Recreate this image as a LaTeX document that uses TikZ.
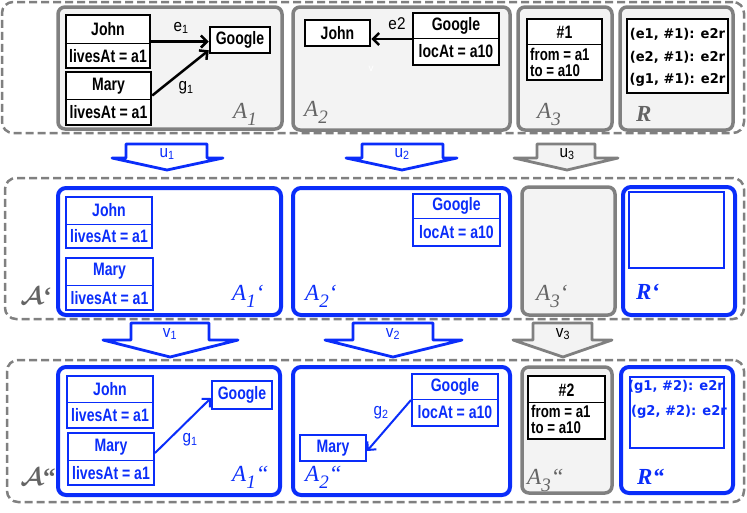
\documentclass[tikz,border=0pt]{standalone}
\usepackage{fontspec}
\setmainfont{Liberation Sans}
\newfontfamily\clsf{Liberation Sans}[FakeStretch=0.78]
\newfontfamily\elf{Liberation Sans}[FakeStretch=0.9]
\newfontfamily\rtf{DejaVu Sans}[FakeStretch=0.97]
\newfontfamily\lblf{Liberation Serif}
\usetikzlibrary{arrows.meta}
\definecolor{myblue}{RGB}{10,45,250}
\definecolor{mgray}{RGB}{128,128,128}
\definecolor{lgray}{RGB}{243,243,243}
\definecolor{agray}{RGB}{100,100,100}
\tikzset{
  outer/.style={draw=mgray, line width=2.5pt, dash pattern=on 8pt off 4pt, rounded corners=11pt},
  gbox/.style={draw=mgray, fill=lgray, line width=3.5pt, rounded corners=7pt, inner sep=0pt},
  bbox/.style={draw=myblue, fill=white, line width=4pt, rounded corners=8pt, inner sep=0pt},
  cls/.style={draw=black, line width=2.5pt, fill=white, inner sep=0pt},
  bcls/.style={draw=myblue, line width=2pt, fill=white, inner sep=0pt},
  div/.style={line width=0.8pt},
  ct/.style={font=\clsf\bfseries\fontsize{18}{18}\selectfont, inner sep=0pt},
  ctl/.style={font=\clsf\bfseries\fontsize{17}{15.5}\selectfont, inner sep=0pt, align=left, anchor=west},
  rt/.style={font=\rtf\bfseries\fontsize{13.5}{13.5}\selectfont, inner sep=0pt},
  el/.style={font=\elf\fontsize{17}{17}\selectfont, inner sep=0pt},
  lbl/.style={font=\lblf\itshape\fontsize{23}{23}\selectfont, inner sep=0pt, anchor=west},
  rlbl/.style={font=\lblf\bfseries\itshape\fontsize{23}{23}\selectfont, inner sep=0pt, anchor=west},
  scriptA/.style={font=\fontsize{25}{25}\selectfont, inner sep=0pt, text=agray},
  bconn/.style={line width=2.5pt, -{Straight Barb[length=6pt,width=12pt,line width=2.5pt]}},
  blconn/.style={myblue, line width=2pt, -{Straight Barb[length=6pt,width=12pt,line width=2pt]}},
  barrow/.style={draw=myblue, fill=white, line width=2.8pt, line join=round},
  garrow/.style={draw=mgray, fill=lgray, line width=2.8pt, line join=round},
}
\newcommand{\sbs}[1]{\raisebox{-7pt}{\fontsize{19}{19}\selectfont #1}}
\newcommand{\sq}{\char"2018\relax}
\newcommand{\dq}{\char"201C\relax}
\newcommand{\calA}{{\boldmath$\mathcal{A}$}}
\begin{document}
\begin{tikzpicture}[x=1pt,y=-1pt]
\useasboundingbox (0,0) rectangle (747,512);
% ================= Row 1 =================
\node[outer, minimum width=742, minimum height=131] (row1) at (373,67.5) {};
\node[gbox, minimum width=224, minimum height=122] (A1) at (170,68) {};
\node[gbox, minimum width=217, minimum height=123] (A2) at (401.5,68.5) {};
\node[gbox, minimum width=94, minimum height=123] (A3) at (565,68.5) {};
\node[gbox, minimum width=113, minimum height=123] (R) at (676.5,68.5) {};
% A1
\node[cls, minimum width=84, minimum height=53] (j1) at (108,41.5) {};
\draw[div] (j1.west |- 0,43) -- (j1.east |- 0,43);
\node[ct] at (108,29) {John};
\node[ct] at (108,56.5) {livesAt = a1};
\node[cls, minimum width=85, minimum height=53] (m1) at (108.5,98.5) {};
\draw[div] (m1.west |- 0,99) -- (m1.east |- 0,99);
\node[ct] at (108.5,86) {Mary};
\node[ct] at (108.5,112.5) {livesAt = a1};
\node[cls, minimum width=60, minimum height=26] (g1) at (240,40) {};
\node[ct] at (240,40) {Google};
\draw[bconn] (j1.east) -- (j1.east -| g1.west);
\draw[bconn] ([yshift=3pt]m1.east) -- ([yshift=4pt]g1.south west);
\node[el] at (181,28) {e\textsubscript{1}};
\node[el] at (186,88) {g\textsubscript{1}};
\node[lbl, text=agray] at (233,114) {A\sbs{1}};
% A2
\node[cls, minimum width=65, minimum height=26] (j2) at (337.5,33) {};
\node[ct] at (337.5,33) {John};
\node[cls, minimum width=86, minimum height=52] (gg2) at (456,39) {};
\draw[div] (gg2.west |- 0,38) -- (gg2.east |- 0,38);
\node[ct] at (456,26) {Google};
\node[ct] at (456,51.5) {locAt = a10};
\draw[bconn] (gg2.west) -- (gg2.west -| j2.east);
\node[el] at (397,24) {e2};
\node[el, text=white, font=\fontsize{10}{10}\selectfont] at (371,69) {v};
\node[lbl, text=agray] at (304,112) {A\sbs{2}};
% A3
\node[cls, minimum width=75, minimum height=61] (h1) at (564.5,49.5) {};
\draw[div] (h1.west |- 0,44) -- (h1.east |- 0,44);
\node[ct] at (564.5,32) {\#1};
\node[ctl] at (530,62.5) {from = a1\\to = a10};
\node[lbl, text=agray] at (537,114) {A\sbs{3}};
% R
\node[cls, minimum width=101, minimum height=74] (r1) at (677.5,56) {};
\node[rt] at (677.5,34) {(e1, \#1): e2r};
\node[rt] at (677.5,57) {(e2, \#1): e2r};
\node[rt] at (677.5,80) {(g1, \#1): e2r};
\node[rlbl, text=agray] at (636,114) {R};
% ================= u arrows =================
\draw[barrow] (126,144) -- (207,144) -- (207,158) -- (223,158) -- (167,170) -- (112,158) -- (126,158) -- cycle;
\node[el, text=myblue] (u1) at (167,154) {u\textsubscript{1}};
\draw[barrow] (362,144) -- (443,144) -- (443,158) -- (457,158) -- (402,170) -- (346,158) -- (362,158) -- cycle;
\node[el, text=myblue] (u2) at (402,154) {u\textsubscript{2}};
\draw[garrow] (537,144) -- (595,144) -- (595,158) -- (618,158) -- (567,170) -- (514,158) -- (537,158) -- cycle;
\node[el] (u3) at (567,154) {u\textsubscript{3}};
% ================= Row 2 =================
\node[outer, minimum width=739, minimum height=141] (row2) at (374.5,248.5) {};
\node[bbox, minimum width=223, minimum height=127] (A1p) at (169.5,251.5) {};
\node[bbox, minimum width=217, minimum height=127] (A2p) at (401.5,251.5) {};
\node[gbox, minimum width=93, minimum height=128] (A3p) at (568.5,251) {};
\node[bbox, minimum width=112, minimum height=128] (Rp) at (679,251) {};
\node[scriptA] at (36,296) {\calA{\lblf\bfseries\sq}};
\node[bcls, minimum width=86, minimum height=51] (j2p) at (109,222.5) {};
\draw[div, myblue] (j2p.west |- 0,224) -- (j2p.east |- 0,224);
\node[ct, text=myblue] at (109,210) {John};
\node[ct, text=myblue] at (109,236.5) {livesAt = a1};
\node[bcls, minimum width=87, minimum height=52] (m2p) at (109.5,284) {};
\draw[div, myblue] (m2p.west |- 0,285) -- (m2p.east |- 0,285);
\node[ct, text=myblue] at (109.5,271.5) {Mary};
\node[ct, text=myblue] at (109.5,298) {livesAt = a1};
\node[lbl, text=myblue] at (232,296) {A\sbs{1}\sq};
\node[bcls, minimum width=87, minimum height=52] (g2p) at (456.5,220) {};
\draw[div, myblue] (g2p.west |- 0,218) -- (g2p.east |- 0,218);
\node[ct, text=myblue] at (456.5,206) {Google};
\node[ct, text=myblue] at (456.5,232.5) {locAt = a10};
\node[lbl, text=myblue] at (305,296) {A\sbs{2}\sq};
\node[lbl, text=agray] at (536,296) {A\sbs{3}\sq};
\node[bcls, minimum width=95, minimum height=76] (r2p) at (676.5,230) {};
\node[rlbl, text=myblue] at (636,292) {R\sq};
% ================= v arrows =================
\draw[barrow] (131,323) -- (209,323) -- (209,340) -- (238,340) -- (170,357) -- (103,340) -- (131,340) -- cycle;
\node[el, text=myblue] (v1) at (170,334) {v\textsubscript{1}};
\draw[barrow] (353,323) -- (433,323) -- (433,340) -- (462,340) -- (393,357) -- (325,340) -- (353,340) -- cycle;
\node[el, text=myblue] (v2) at (393,334) {v\textsubscript{2}};
\draw[garrow] (533,323) -- (592,323) -- (592,340) -- (612,340) -- (563,357) -- (513,340) -- (533,340) -- cycle;
\node[el] (v3) at (563,334) {v\textsubscript{3}};
% ================= Row 3 =================
\node[outer, minimum width=737, minimum height=142] (row3) at (375.5,431) {};
\node[bbox, minimum width=222, minimum height=128] (A1pp) at (169,431) {};
\node[bbox, minimum width=217, minimum height=128] (A2pp) at (401.5,431) {};
\node[gbox, minimum width=90, minimum height=126] (A3pp) at (567,430) {};
\node[bbox, minimum width=112, minimum height=126] (Rpp) at (677,430) {};
\node[scriptA] at (38,477) {\calA{\lblf\bfseries\dq}};
\node[bcls, minimum width=86, minimum height=52] (j3) at (110,402) {};
\draw[div, myblue] (j3.west |- 0,402) -- (j3.east |- 0,402);
\node[ct, text=myblue] at (110,389.5) {John};
\node[ct, text=myblue] at (110,415.5) {livesAt = a1};
\node[bcls, minimum width=86, minimum height=52] (m3) at (111,459) {};
\draw[div, myblue] (m3.west |- 0,460) -- (m3.east |- 0,460);
\node[ct, text=myblue] at (111,447) {Mary};
\node[ct, text=myblue] at (111,473) {livesAt = a1};
\node[bcls, minimum width=60, minimum height=28] (g3) at (242,395) {};
\node[ct, text=myblue] at (242,395) {Google};
\draw[blconn] ([yshift=6pt]m3.east) -- ([yshift=-3pt]g3.west);
\node[el, text=myblue] at (190,440) {g\textsubscript{1}};
\node[lbl, text=myblue] at (232,477) {A\sbs{1}\dq};
\node[bcls, minimum width=86, minimum height=52] (gg3) at (455,400) {};
\draw[div, myblue] (gg3.west |- 0,399) -- (gg3.east |- 0,399);
\node[ct, text=myblue] at (455,386.5) {Google};
\node[ct, text=myblue] at (455,412.5) {locAt = a10};
\node[bcls, minimum width=66, minimum height=26] (mm3) at (333,448) {};
\node[ct, text=myblue] at (333,448) {Mary};
\draw[blconn] (gg3.west) -- ([yshift=-3pt]mm3.east);
\node[el, text=myblue] at (381,413) {g\textsubscript{2}};
\node[lbl, text=myblue] at (305,477) {A\sbs{2}\dq};
\node[cls, minimum width=77, minimum height=63] (h2) at (566.5,407.5) {};
\draw[div] (h2.west |- 0,402) -- (h2.east |- 0,402);
\node[ct] at (566.5,390) {\#2};
\node[ctl] at (531,419.5) {from = a1\\to = a10};
\node[lbl, text=agray] at (527,480) {A\sbs{3}\dq};
\node[bcls, minimum width=94, minimum height=71] (r3) at (677,412.5) {};
\node[rt, text=myblue] at (676,387) {(g1, \#2): e2r};
\node[rt, text=myblue] at (679,412) {(g2, \#2): e2r};
\node[rlbl, text=myblue] at (637,477) {R\dq};
\end{tikzpicture}
\end{document}
